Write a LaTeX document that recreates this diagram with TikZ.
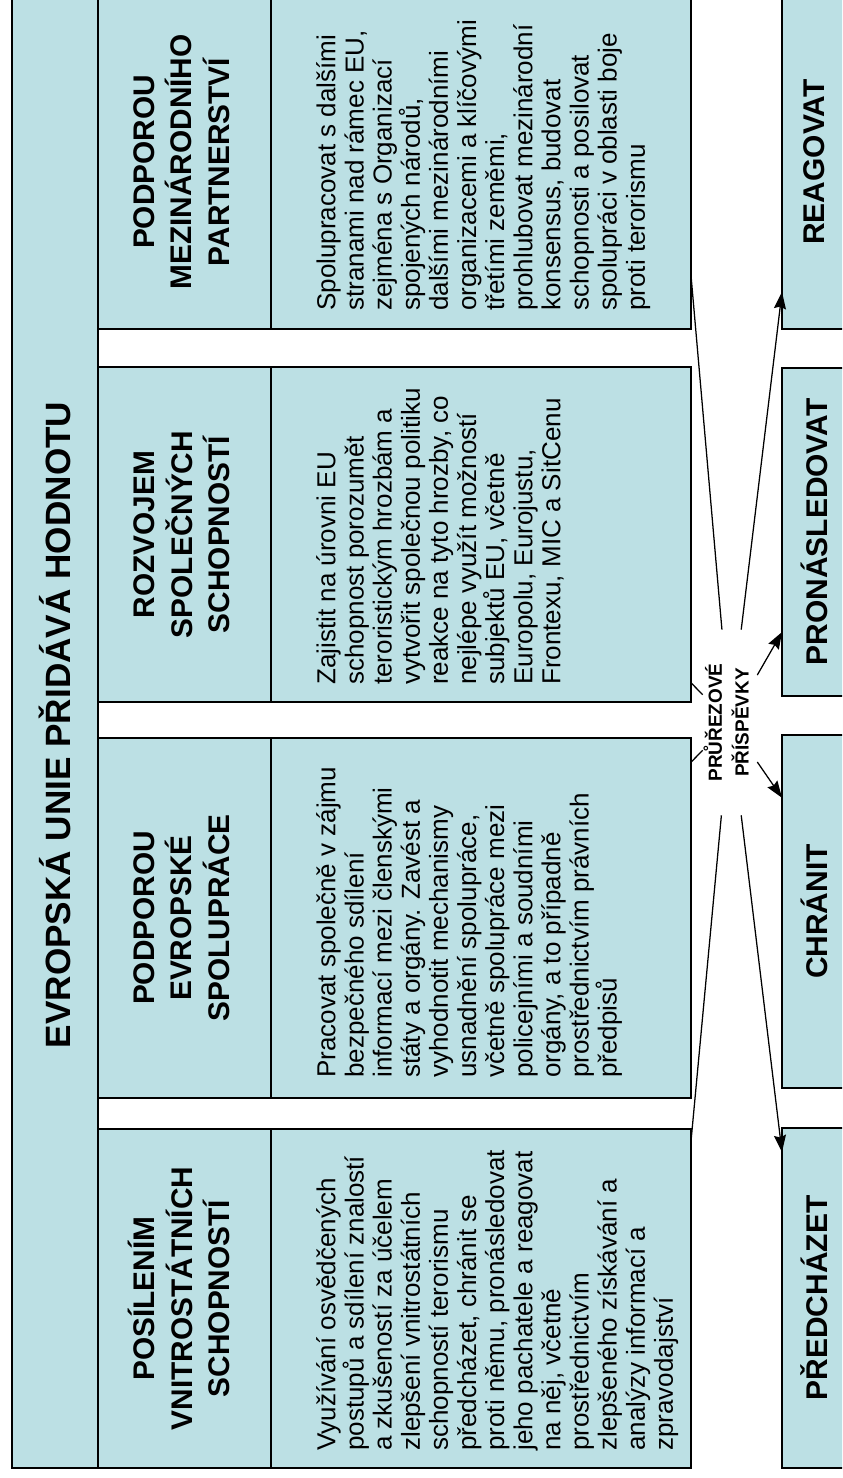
\documentclass[tikz,border=0pt]{standalone}
\usepackage{fontspec}
\setmainfont{Liberation Sans}
\usepackage{graphicx}
\usetikzlibrary{positioning, calc, arrows.meta}
\definecolor{boxblue}{RGB}{188,224,228}
\tikzstyle{cell} = [rectangle,
draw=black,
fill=boxblue,
line width=1pt,
outer sep=0pt,
inner sep=0pt]
\tikzstyle{titlebox} = [cell,
minimum width=2.15cm,
font=\fontsize{25}{30}\selectfont\bfseries]
\tikzstyle{headbox} = [cell,
minimum width=4.325cm,
font=\fontsize{21.2}{26.2}\selectfont\bfseries]
\tikzstyle{bodybox} = [cell,
minimum width=10.5cm]
\tikzstyle{bodytext} = [rotate=90,
anchor=north west,
inner sep=0pt,
align=left,
font=\fontsize{18.5}{20}\selectfont]
\tikzstyle{actionbox} = [cell,
minimum width=1.6cm,
font=\fontsize{21.3}{26}\selectfont\bfseries]
\tikzstyle{crosslabel} = [rectangle,
minimum width=1.35cm,
minimum height=4.625cm,
inner sep=0pt,
font=\fontsize{13.5}{19}\selectfont\bfseries]
\tikzstyle{link} = [line width=0.9pt]
\tikzstyle{arrow} = [line width=0.9pt, -{Stealth[length=12pt, width=8.5pt, inset=1.5pt]}]

\begin{document}
\begin{tikzpicture}[x=0.025cm, y=0.025cm]
			\useasboundingbox (0,0) rectangle (842,1478);
			\clip (0,0) rectangle (842,1478);
			\node (title) [titlebox, minimum height=37.15cm] at (55,753) {\rotatebox{90}{EVROPSKÁ UNIE PŘIDÁVÁ HODNOTU}};

			\node (head1) [headbox, minimum height=8.475cm] at (184.5,179.5) {\rotatebox{90}{\begin{tabular}{@{}c@{}}POSÍLENÍM\\VNITROSTÁTNÍCH\\SCHOPNOSTÍ\end{tabular}}};
			\node (body1) [bodybox, minimum height=8.475cm, right=0pt of head1] {};
			\node (text1) [bodytext] at ([xshift=1.125cm, yshift=0.425cm]body1.south west) {Využívání osvědčených\\postupů a sdílení znalostí\\a zkušeností za účelem\\zlepšení vnitrostátních\\schopností terorismu\\předcházet, chránit se\\proti němu, pronásledovat\\jeho pachatele a reagovat\\na něj, včetně\\prostřednictvím\\zlepšeného získávání a\\analýzy informací a\\zpravodajství};

			\node (head2) [headbox, minimum height=9cm] at (184.5,560) {\rotatebox{90}{\begin{tabular}{@{}c@{}}PODPOROU\\EVROPSKÉ\\SPOLUPRÁCE\end{tabular}}};
			\node (body2) [bodybox, minimum height=9cm, right=0pt of head2] {};
			\node (text2) [bodytext] at ([xshift=1.125cm, yshift=0.5cm]body2.south west) {Pracovat společně v zájmu\\bezpečného sdílení\\informací mezi členskými\\státy a orgány. Zavést a\\vyhodnotit mechanismy\\usnadnění spolupráce,\\včetně spolupráce mezi\\policejními a soudními\\orgány, a to případně\\prostřednictvím právních\\předpisů};

			\node (head3) [headbox, minimum height=8.375cm] at (184.5,943.5) {\rotatebox{90}{\begin{tabular}{@{}c@{}}ROZVOJEM\\SPOLEČNÝCH\\SCHOPNOSTÍ\end{tabular}}};
			\node (body3) [bodybox, minimum height=8.375cm, right=0pt of head3] {};
			\node (text3) [bodytext] at ([xshift=1.125cm, yshift=0.425cm]body3.south west) {Zajistit na úrovni EU\\schopnost porozumět\\teroristickým hrozbám a\\vytvořit společnou politiku\\reakce na tyto hrozby, co\\nejlépe využít možností\\subjektů EU, včetně\\Europolu, Eurojustu,\\Frontexu, MIC a SitCenu};

			\node (head4) [headbox, minimum height=8.35cm] at (184.5,1316) {\rotatebox{90}{\begin{tabular}{@{}c@{}}PODPOROU\\MEZINÁRODNÍHO\\PARTNERSTVÍ\end{tabular}}};
			\node (body4) [bodybox, minimum height=8.35cm, right=0pt of head4] {};
			\node (text4) [bodytext] at ([xshift=1.125cm, yshift=0.45cm]body4.south west) {Spolupracovat s dalšími\\stranami nad rámec EU,\\zejména s Organizací\\spojených národů,\\dalšími mezinárodními\\organizacemi a klíčovými\\třetími zeměmi,\\prohlubovat mezinárodní\\konsensus, budovat\\schopnosti a posilovat\\spolupráci v oblasti boje\\proti terorismu};

			\node (prevent) [actionbox, minimum height=8.5cm] at (814,180) {\rotatebox{90}{PŘEDCHÁZET}};
			\node (protect) [actionbox, minimum height=8.825cm] at (814,566.5) {\rotatebox{90}{CHRÁNIT}};
			\node (pursue) [actionbox, minimum height=8.2cm] at (814,946) {\rotatebox{90}{PRONÁSLEDOVAT}};
			\node (respond) [actionbox, minimum height=8.35cm] at (814,1316) {\rotatebox{90}{REAGOVAT}};

			\node (cross) [crosslabel] at (730,755.5) {\rotatebox{90}{\begin{tabular}{@{}c@{}}PRŮŘEZOVÉ\\PŘÍSPĚVKY\end{tabular}}};

			\draw[link] (cross) -- ($(body1.south east)!0.968!(body1.north east)$);
			\draw[link] (cross) -- ($(body2.south east)!0.933!(body2.north east)$);
			\draw[link] (cross) -- ($(body3.south east)!0.057!(body3.north east)$);
			\draw[link] (cross) -- ($(body4.south east)!0.156!(body4.north east)$);
			\draw[arrow] (cross) -- ($(prevent.south west)!0.929!(prevent.north west)$);
			\draw[arrow] (cross) -- ($(protect.south west)!0.822!(protect.north west)$);
			\draw[arrow] (cross) -- ($(pursue.south west)!0.195!(pursue.north west)$);
			\draw[arrow] (cross) -- ($(respond.south west)!0.111!(respond.north west)$);
		\end{tikzpicture}
\end{document}
